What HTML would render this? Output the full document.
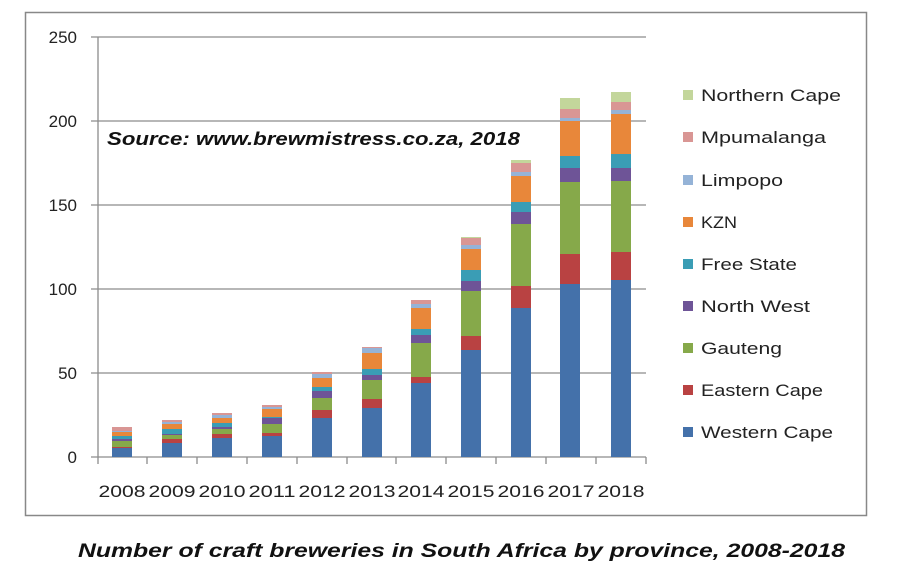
<!DOCTYPE html>
<html><head><meta charset="utf-8"><style>
html,body{margin:0;padding:0;background:#fff;width:913px;height:578px;overflow:hidden}
svg text{font-family:"Liberation Sans",sans-serif}
</style></head><body>
<svg width="913" height="578" viewBox="0 0 913 578" xmlns="http://www.w3.org/2000/svg">
<rect x="25.5" y="12.5" width="841" height="503" fill="#fff" stroke="#888" stroke-width="1.5"/>
<g stroke="#8c8c8c" stroke-width="1.3">
<line x1="91" y1="37" x2="646" y2="37"/>
<line x1="91" y1="121" x2="646" y2="121"/>
<line x1="91" y1="205" x2="646" y2="205"/>
<line x1="91" y1="289" x2="646" y2="289"/>
<line x1="91" y1="373" x2="646" y2="373"/>
<line x1="91" y1="457" x2="646" y2="457"/>
<line x1="98" y1="37" x2="98" y2="464"/>
<line x1="147" y1="457" x2="147" y2="464"/><line x1="197" y1="457" x2="197" y2="464"/>
<line x1="247" y1="457" x2="247" y2="464"/><line x1="297" y1="457" x2="297" y2="464"/>
<line x1="347" y1="457" x2="347" y2="464"/><line x1="396" y1="457" x2="396" y2="464"/>
<line x1="446" y1="457" x2="446" y2="464"/><line x1="496" y1="457" x2="496" y2="464"/>
<line x1="546" y1="457" x2="546" y2="464"/><line x1="596" y1="457" x2="596" y2="464"/>
<line x1="646" y1="457" x2="646" y2="464"/>
</g>
<g font-size="17" fill="#222" text-anchor="end">
<text x="77" y="43">250</text><text x="77" y="127">200</text><text x="77" y="211">150</text>
<text x="77" y="295">100</text><text x="77" y="379">50</text><text x="77" y="463">0</text>
</g>
<g font-size="17" fill="#222" text-anchor="middle">
<text x="122" y="497" textLength="47" lengthAdjust="spacingAndGlyphs">2008</text><text x="172" y="497" textLength="47" lengthAdjust="spacingAndGlyphs">2009</text><text x="222" y="497" textLength="47" lengthAdjust="spacingAndGlyphs">2010</text>
<text x="272" y="497" textLength="47" lengthAdjust="spacingAndGlyphs">2011</text><text x="322" y="497" textLength="47" lengthAdjust="spacingAndGlyphs">2012</text><text x="372" y="497" textLength="47" lengthAdjust="spacingAndGlyphs">2013</text>
<text x="421" y="497" textLength="47" lengthAdjust="spacingAndGlyphs">2014</text><text x="471" y="497" textLength="47" lengthAdjust="spacingAndGlyphs">2015</text><text x="521" y="497" textLength="47" lengthAdjust="spacingAndGlyphs">2016</text>
<text x="571" y="497" textLength="47" lengthAdjust="spacingAndGlyphs">2017</text><text x="621" y="497" textLength="47" lengthAdjust="spacingAndGlyphs">2018</text>
</g>
<g>
<!-- 2008 -->
<rect x="112" y="448" width="20" height="9" fill="#4471AA"/><rect x="112" y="447" width="20" height="1" fill="#B94242"/><rect x="112" y="441" width="20" height="6" fill="#86A94A"/><rect x="112" y="439" width="20" height="2" fill="#6E5497"/><rect x="112" y="436" width="20" height="3" fill="#3A9DB5"/><rect x="112" y="432" width="20" height="4" fill="#E8873A"/><rect x="112" y="431" width="20" height="1" fill="#95B3D7"/><rect x="112" y="427" width="20" height="4" fill="#D99694"/>
<!-- 2009 -->
<rect x="162" y="443" width="20" height="14" fill="#4471AA"/><rect x="162" y="439" width="20" height="4" fill="#B94242"/><rect x="162" y="435" width="20" height="4" fill="#86A94A"/><rect x="162" y="434" width="20" height="1" fill="#6E5497"/><rect x="162" y="429" width="20" height="5" fill="#3A9DB5"/><rect x="162" y="424" width="20" height="5" fill="#E8873A"/><rect x="162" y="422" width="20" height="2" fill="#95B3D7"/><rect x="162" y="420" width="20" height="2" fill="#D99694"/>
<!-- 2010 -->
<rect x="212" y="438" width="20" height="19" fill="#4471AA"/><rect x="212" y="434" width="20" height="4" fill="#B94242"/><rect x="212" y="429" width="20" height="5" fill="#86A94A"/><rect x="212" y="427" width="20" height="2" fill="#6E5497"/><rect x="212" y="423" width="20" height="4" fill="#3A9DB5"/><rect x="212" y="418" width="20" height="5" fill="#E8873A"/><rect x="212" y="415" width="20" height="3" fill="#95B3D7"/><rect x="212" y="413" width="20" height="2" fill="#D99694"/>
<!-- 2011 -->
<rect x="262" y="436" width="20" height="21" fill="#4471AA"/><rect x="262" y="433" width="20" height="3" fill="#B94242"/><rect x="262" y="424" width="20" height="9" fill="#86A94A"/><rect x="262" y="418" width="20" height="6" fill="#6E5497"/><rect x="262" y="417" width="20" height="1" fill="#3A9DB5"/><rect x="262" y="409" width="20" height="8" fill="#E8873A"/><rect x="262" y="407" width="20" height="2" fill="#95B3D7"/><rect x="262" y="405" width="20" height="2" fill="#D99694"/>
<!-- 2012 -->
<rect x="312" y="418" width="20" height="39" fill="#4471AA"/><rect x="312" y="410" width="20" height="8" fill="#B94242"/><rect x="312" y="398" width="20" height="12" fill="#86A94A"/><rect x="312" y="391" width="20" height="7" fill="#6E5497"/><rect x="312" y="387" width="20" height="4" fill="#3A9DB5"/><rect x="312" y="378" width="20" height="9" fill="#E8873A"/><rect x="312" y="374" width="20" height="4" fill="#95B3D7"/><rect x="312" y="372" width="20" height="2" fill="#D99694"/>
<!-- 2013 -->
<rect x="362" y="408" width="20" height="49" fill="#4471AA"/><rect x="362" y="399" width="20" height="9" fill="#B94242"/><rect x="362" y="380" width="20" height="19" fill="#86A94A"/><rect x="362" y="375" width="20" height="5" fill="#6E5497"/><rect x="362" y="369" width="20" height="6" fill="#3A9DB5"/><rect x="362" y="353" width="20" height="16" fill="#E8873A"/><rect x="362" y="348" width="20" height="5" fill="#95B3D7"/><rect x="362" y="347" width="20" height="1" fill="#D99694"/>
<!-- 2014 -->
<rect x="411" y="383" width="20" height="74" fill="#4471AA"/><rect x="411" y="377" width="20" height="6" fill="#B94242"/><rect x="411" y="343" width="20" height="34" fill="#86A94A"/><rect x="411" y="335" width="20" height="8" fill="#6E5497"/><rect x="411" y="329" width="20" height="6" fill="#3A9DB5"/><rect x="411" y="308" width="20" height="21" fill="#E8873A"/><rect x="411" y="304" width="20" height="4" fill="#95B3D7"/><rect x="411" y="300" width="20" height="4" fill="#D99694"/>
<!-- 2015 -->
<rect x="461" y="350" width="20" height="107" fill="#4471AA"/><rect x="461" y="336" width="20" height="14" fill="#B94242"/><rect x="461" y="291" width="20" height="45" fill="#86A94A"/><rect x="461" y="281" width="20" height="10" fill="#6E5497"/><rect x="461" y="270" width="20" height="11" fill="#3A9DB5"/><rect x="461" y="249" width="20" height="21" fill="#E8873A"/><rect x="461" y="245" width="20" height="4" fill="#95B3D7"/><rect x="461" y="238" width="20" height="7" fill="#D99694"/><rect x="461" y="237" width="20" height="1" fill="#C3D69B"/>
<!-- 2016 -->
<rect x="511" y="308" width="20" height="149" fill="#4471AA"/><rect x="511" y="286" width="20" height="22" fill="#B94242"/><rect x="511" y="224" width="20" height="62" fill="#86A94A"/><rect x="511" y="212" width="20" height="12" fill="#6E5497"/><rect x="511" y="202" width="20" height="10" fill="#3A9DB5"/><rect x="511" y="176" width="20" height="26" fill="#E8873A"/><rect x="511" y="172" width="20" height="4" fill="#95B3D7"/><rect x="511" y="163" width="20" height="9" fill="#D99694"/><rect x="511" y="160" width="20" height="3" fill="#C3D69B"/>
<!-- 2017 -->
<rect x="560" y="284" width="20" height="173" fill="#4471AA"/><rect x="560" y="254" width="20" height="30" fill="#B94242"/><rect x="560" y="182" width="20" height="72" fill="#86A94A"/><rect x="560" y="168" width="20" height="14" fill="#6E5497"/><rect x="560" y="156" width="20" height="12" fill="#3A9DB5"/><rect x="560" y="121" width="20" height="35" fill="#E8873A"/><rect x="560" y="118" width="20" height="3" fill="#95B3D7"/><rect x="560" y="109" width="20" height="9" fill="#D99694"/><rect x="560" y="98" width="20" height="11" fill="#C3D69B"/>
<!-- 2018 -->
<rect x="611" y="280" width="20" height="177" fill="#4471AA"/><rect x="611" y="252" width="20" height="28" fill="#B94242"/><rect x="611" y="181" width="20" height="71" fill="#86A94A"/><rect x="611" y="168" width="20" height="13" fill="#6E5497"/><rect x="611" y="154" width="20" height="14" fill="#3A9DB5"/><rect x="611" y="114" width="20" height="40" fill="#E8873A"/><rect x="611" y="110" width="20" height="4" fill="#95B3D7"/><rect x="611" y="102" width="20" height="8" fill="#D99694"/><rect x="611" y="92" width="20" height="10" fill="#C3D69B"/>
</g>
<text x="107" y="145" font-size="18.5" font-weight="bold" font-style="italic" fill="#111" textLength="413" lengthAdjust="spacingAndGlyphs">Source: www.brewmistress.co.za, 2018</text>
<g font-size="17" fill="#222">
<rect x="683" y="90" width="10" height="10" fill="#C3D69B"/><text x="701" y="101" textLength="140" lengthAdjust="spacingAndGlyphs">Northern Cape</text>
<rect x="683" y="132" width="10" height="10" fill="#D99694"/><text x="701" y="143" textLength="125" lengthAdjust="spacingAndGlyphs">Mpumalanga</text>
<rect x="683" y="175" width="10" height="10" fill="#95B3D7"/><text x="701" y="186" textLength="82" lengthAdjust="spacingAndGlyphs">Limpopo</text>
<rect x="683" y="217" width="10" height="10" fill="#E8873A"/><text x="701" y="228" textLength="36" lengthAdjust="spacingAndGlyphs">KZN</text>
<rect x="683" y="259" width="10" height="10" fill="#3A9DB5"/><text x="701" y="270" textLength="96" lengthAdjust="spacingAndGlyphs">Free State</text>
<rect x="683" y="301" width="10" height="10" fill="#6E5497"/><text x="701" y="312" textLength="109" lengthAdjust="spacingAndGlyphs">North West</text>
<rect x="683" y="343" width="10" height="10" fill="#86A94A"/><text x="701" y="354" textLength="81" lengthAdjust="spacingAndGlyphs">Gauteng</text>
<rect x="683" y="385" width="10" height="10" fill="#B94242"/><text x="701" y="396" textLength="122" lengthAdjust="spacingAndGlyphs">Eastern Cape</text>
<rect x="683" y="427" width="10" height="10" fill="#4471AA"/><text x="701" y="438" textLength="132" lengthAdjust="spacingAndGlyphs">Western Cape</text>
</g>
<text x="78" y="557" font-size="19.5" font-weight="bold" font-style="italic" fill="#111" textLength="767" lengthAdjust="spacingAndGlyphs">Number of craft breweries in South Africa by province, 2008-2018</text>
</svg>
</body></html>
